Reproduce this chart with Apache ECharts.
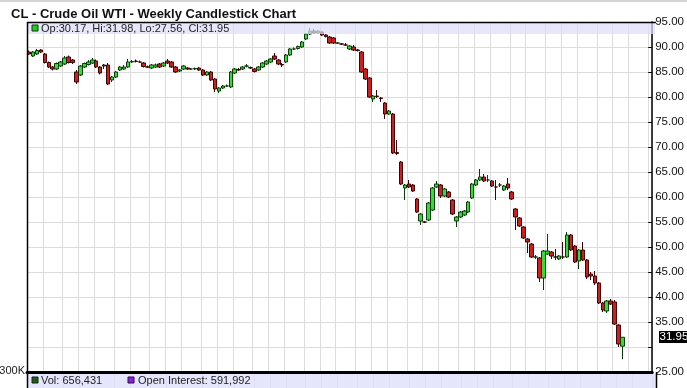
<!DOCTYPE html>
<html>
<head>
<meta charset="utf-8">
<script src="https://cdn.jsdelivr.net/npm/echarts@6/dist/echarts.min.js"></script>
<style>
html,body{margin:0;padding:0;background:#fff;}
#chart{width:687px;height:388px;}
</style>
</head>
<body>
<div id="chart"></div>
<script>
// Weekly OHLC (oldest -> newest)
const opens = [
89.0,88.2,88.6,89.4,88.6,86.9,86.0,85.6,86.2,86.6,
88.0,87.4,85.0,84.4,86.0,86.5,86.8,87.2,86.0,86.4,
86.4,83.4,84.0,85.4,85.6,86.0,87.0,87.2,87.0,86.8,
86.0,85.8,86.0,86.6,86.2,87.2,87.0,86.0,85.2,85.6,
85.8,85.6,85.6,85.8,85.4,84.4,85.0,83.6,81.2,81.8,
82.2,82.0,84.8,85.5,85.6,86.2,85.9,85.6,85.4,86.0,
86.6,87.0,88.2,87.4,86.5,87.0,88.4,89.6,89.7,90.0,
91.6,92.6,93.2,92.8,93.0,92.4,92.0,91.8,90.8,90.6,
90.4,89.6,90.0,89.4,89.0,85.6,83.8,79.6,80.2,79.8,
78.8,76.6,76.6,68.9,67.0,61.8,62.6,62.4,59.6,55.2,
55.0,55.4,57.4,62.0,62.4,60.2,61.0,59.4,55.2,56.0,
56.4,57.0,59.8,62.4,63.4,64.0,63.4,63.2,62.0,62.4,
61.4,62.6,61.0,57.6,55.8,54.0,51.6,50.6,48.0,47.8,
43.8,48.6,49.0,48.0,47.6,48.0,48.0,52.4,50.2,47.2,
49.4,47.4,44.6,44.2,42.8,38.8,37.2,39.2,39.0,34.4,
30.17
];
const closes = [
88.6,89.0,89.3,89.0,86.9,86.0,85.6,86.7,87.0,87.8,
86.9,86.9,83.0,86.2,86.7,87.0,87.4,86.0,84.8,86.2,
82.6,84.0,85.0,86.0,86.0,87.0,87.1,87.1,87.0,86.1,
86.0,86.4,86.4,86.0,86.8,86.8,86.0,85.0,85.4,86.2,
85.6,85.6,85.7,85.4,84.4,85.0,83.4,81.6,81.8,82.2,
82.2,85.0,85.6,85.4,86.0,86.2,85.8,85.1,86.0,86.8,
87.2,87.6,87.6,86.6,86.4,88.4,89.6,89.6,90.1,91.0,
92.6,93.2,92.8,93.2,92.4,92.1,90.8,90.8,90.8,90.6,
90.4,90.2,89.4,89.3,85.0,83.6,80.0,80.2,80.1,79.7,
76.6,77.2,68.8,68.7,62.6,62.4,62.0,61.2,57.0,56.6,
55.0,58.8,61.8,62.6,60.2,61.6,60.0,56.6,56.0,57.0,
57.2,59.0,62.6,63.4,64.0,63.2,63.4,62.2,62.0,62.4,
62.2,61.8,59.6,56.0,54.2,51.8,51.0,48.0,48.0,43.8,
49.2,49.2,48.2,48.0,48.2,48.0,52.4,49.4,47.0,49.4,
47.4,44.0,44.2,42.8,38.8,37.4,39.2,38.6,34.6,30.6,
31.95
];
const lows = [
88.4,88.0,88.4,88.8,86.7,85.8,85.3,85.4,86.0,86.4,
86.7,86.6,82.6,84.2,85.8,86.3,86.6,85.8,84.5,85.6,
82.4,83.0,83.8,85.2,85.4,85.8,86.8,86.9,86.8,85.9,
85.8,85.6,85.8,85.8,86.0,86.6,85.8,84.8,85.0,85.4,
85.4,85.4,85.4,85.2,84.2,84.2,83.2,81.0,80.8,81.6,
82.0,81.8,84.6,85.2,85.4,85.9,85.6,84.9,85.2,85.8,
86.4,86.8,87.4,86.4,86.0,86.8,88.2,89.4,89.5,89.8,
91.4,92.4,92.6,92.6,92.2,91.9,90.6,90.6,90.6,90.4,
90.2,89.4,89.2,89.1,84.8,83.4,79.8,79.0,79.8,79.0,
75.6,76.4,68.6,68.4,62.4,59.4,61.8,61.0,56.8,54.4,
54.8,55.2,57.2,61.8,59.8,60.0,59.8,56.4,54.0,55.8,
56.2,56.8,59.6,62.2,63.2,63.0,63.0,62.0,59.4,62.0,
61.2,61.4,59.4,53.4,54.0,51.6,48.8,47.8,47.6,43.0,
41.4,48.4,47.6,47.4,47.4,47.6,47.8,49.2,46.8,45.6,
47.2,43.6,43.4,42.4,38.6,37.0,36.8,38.4,34.4,30.0,
27.56
];
const highs = [
89.3,89.2,89.6,89.6,88.8,87.1,86.2,86.9,87.2,88.2,
88.3,87.6,85.4,86.4,86.9,87.4,87.8,87.5,86.2,86.6,
86.8,84.2,85.2,86.2,86.4,87.6,87.4,87.5,87.3,87.0,
86.3,86.6,86.7,86.8,87.0,87.6,87.2,86.2,85.6,86.4,
86.0,85.8,85.9,86.0,85.6,85.2,85.2,83.8,82.0,82.4,
82.5,85.2,85.8,85.8,86.2,86.6,86.1,85.8,86.2,87.0,
87.4,87.8,88.8,87.6,86.8,88.6,89.8,89.9,90.3,91.2,
92.8,93.8,93.6,93.4,93.2,92.6,92.2,92.0,91.0,90.8,
90.8,90.4,90.4,89.6,89.2,85.8,84.0,80.4,81.4,80.0,
79.0,77.4,76.8,71.4,67.2,62.6,63.4,62.6,59.8,56.8,
55.2,59.0,62.0,63.2,62.6,61.8,61.2,59.6,56.2,57.2,
57.4,59.2,62.8,63.6,65.6,64.6,64.4,63.4,63.4,62.8,
62.4,63.8,61.2,57.8,56.0,54.2,51.8,50.8,48.4,48.0,
49.4,52.6,49.2,49.6,48.4,51.0,53.0,52.6,50.4,49.6,
51.0,47.6,45.0,45.2,43.0,39.0,39.4,39.6,39.4,34.6,
31.98
];
const yTicks = {min: 25, max: 95, step: 5};
const legendTop = 'Op:30.17, Hi:31.98, Lo:27.56, Cl:31.95';
const legendVol = 'Vol: 656,431';
const legendOI = 'Open Interest: 591,992';
const volTopLabel = '300K';
const titleText = 'CL - Crude Oil WTI - Weekly Candlestick Chart';

// weekly category dates (last candle = week of 2016-01-18), plus empty future weeks
const nCandles = opens.length;
const nSlots = 158;
const categories = [];
const lastMs = Date.UTC(2016, 0, 18);
for (let i = 0; i < nSlots; i++) {
  const d = new Date(lastMs + (i - (nCandles - 1)) * 7 * 86400000);
  categories.push(d.toISOString().slice(0, 10));
}
const ohlc = opens.map((o, i) => [o, closes[i], lows[i], highs[i]]);
const monthStart = (idx) => idx > 0 && categories[idx].slice(0, 7) !== categories[idx - 1].slice(0, 7);
const lastClose = closes[closes.length - 1];

const FONT = '"Liberation Sans", Arial, sans-serif';
const gridColor = '#dcdcdc';
const chart = echarts.init(document.getElementById('chart'), null, {renderer: 'canvas'});
const baseGraphic = [
  {type: 'rect', shape: {x: 0, y: 0, width: 687, height: 2}, style: {fill: '#d4d4d4'}, z: 1},
  {type: 'rect', shape: {x: 28, y: 23, width: 627, height: 11}, style: {fill: 'rgba(222,222,250,0.72)'}, z: 50},
  {type: 'rect', shape: {x: 32, y: 25, width: 6, height: 6}, style: {fill: '#22cc22', stroke: '#0b3b0b', lineWidth: 1}, z: 51},
  {type: 'text', x: 41, y: 28.5, style: {text: legendTop, fill: '#222', font: '11px ' + FONT, textVerticalAlign: 'middle'}, z: 51},
  {type: 'line', shape: {x1: 27, y1: 22.5, x2: 656, y2: 22.5}, style: {stroke: '#000', lineWidth: 1.5}, z: 52},
  {type: 'line', shape: {x1: 27.5, y1: 22, x2: 27.5, y2: 388}, style: {stroke: '#000', lineWidth: 1.5}, z: 52},
  {type: 'line', shape: {x1: 656.5, y1: 372, x2: 656.5, y2: 388}, style: {stroke: '#000', lineWidth: 1.5}, z: 52},
  {type: 'rect', shape: {x: 28, y: 374, width: 628, height: 14}, style: {fill: 'rgba(222,222,250,0.8)'}, z: 50},
  {type: 'rect', shape: {x: 32, y: 377, width: 6, height: 6}, style: {fill: '#1e5a1e', stroke: '#0b2b0b', lineWidth: 1}, z: 51},
  {type: 'text', x: 41, y: 380.5, style: {text: legendVol, fill: '#222', font: '11px ' + FONT, textVerticalAlign: 'middle'}, z: 51},
  {type: 'rect', shape: {x: 128, y: 377, width: 6, height: 6}, style: {fill: '#8a22dd', stroke: '#2b0b4b', lineWidth: 1}, z: 51},
  {type: 'text', x: 138, y: 380.5, style: {text: legendOI, fill: '#222', font: '11px ' + FONT, textVerticalAlign: 'middle'}, z: 51},
  {type: 'text', x: 25, y: 371, style: {text: volTopLabel, fill: '#222', font: '11px ' + FONT, textAlign: 'right', textVerticalAlign: 'middle'}, z: 51}
];
chart.setOption({
  animation: false,
  backgroundColor: '#ffffff',
  title: {
    text: titleText, left: 6, top: 3,
    textStyle: {fontFamily: FONT, fontSize: 13, fontWeight: 'bold', color: '#111'}
  },
  grid: [
    {left: 27, right: 31, top: 22, bottom: 16},
    {left: 27, right: 31, top: 373, height: 40}
  ],
  xAxis: [
    {
      type: 'category', data: categories, boundaryGap: true, gridIndex: 0,
      axisLine: {show: true, lineStyle: {color: '#000', width: 3}},
      axisTick: {show: false}, axisLabel: {show: false},
      splitLine: {show: true, interval: monthStart, lineStyle: {color: gridColor, width: 1}}
    },
    {
      type: 'category', data: categories, boundaryGap: true, gridIndex: 1,
      axisLine: {show: false}, axisTick: {show: false}, axisLabel: {show: false},
      splitLine: {show: true, interval: monthStart, lineStyle: {color: gridColor, width: 1}}
    }
  ],
  yAxis: [
    {
      type: 'value', position: 'right', gridIndex: 0,
      min: yTicks.min, max: yTicks.max, interval: yTicks.step, scale: true,
      axisLine: {show: true, lineStyle: {color: '#000', width: 1.5}},
      axisTick: {show: true, inside: true, length: 4, lineStyle: {color: '#000'}},
      axisLabel: {
        margin: 3, color: '#111', fontFamily: FONT, fontSize: 11.5,
        formatter: (v) => (v === 30 ? '' : v.toFixed(2))
      },
      splitLine: {show: true, lineStyle: {color: gridColor, width: 1}}
    },
    {
      type: 'value', gridIndex: 1, show: false, min: 0, max: 1
    }
  ],
  series: [
    {
      type: 'candlestick', xAxisIndex: 0, yAxisIndex: 0,
      data: ohlc, barWidth: 4,
      itemStyle: {
        color: '#33dd33', color0: '#cc2020',
        borderColor: '#0b3b0b', borderColor0: '#3a0505', borderWidth: 1
      }
    }
  ],
  graphic: baseGraphic
});
// last-close tag on the right axis, placed through the axis scale
const yPix = chart.convertToPixel({yAxisIndex: 0}, lastClose);
chart.setOption({
  graphic: baseGraphic.concat([
    {type: 'rect', shape: {x: 659, y: Math.round(yPix) - 6, width: 30, height: 12}, style: {fill: '#000'}, z: 60},
    {type: 'text', x: 659.5, y: Math.round(yPix), style: {text: lastClose.toFixed(2), fill: '#fff', font: '11.5px ' + FONT, textVerticalAlign: 'middle'}, z: 61}
  ])
});
</script>
</body>
</html>
